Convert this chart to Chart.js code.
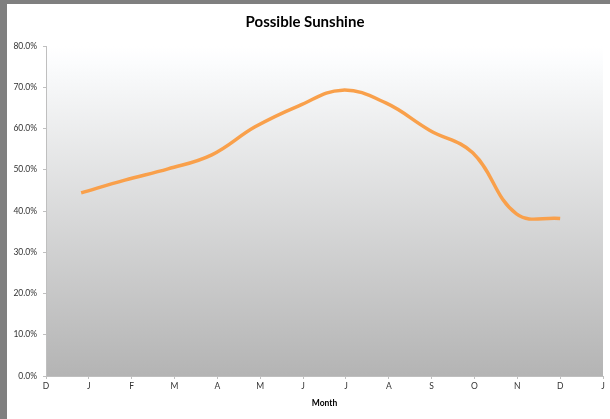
<!DOCTYPE html>
<html>
<head>
    <title>Possible Sunshine</title>
    <script src="https://cdn.jsdelivr.net/npm/chart.js"></script>
    <style>
        body { margin: 0; background: #fff; }
        #frame { position: absolute; left: 0; top: 0; width: 603px; height: 415px;
                 border-top: 4px solid #7f7f7f; border-left: 7px solid #7f7f7f; background: #fff; }
    </style>
</head>
<body>
    <div id="frame">
        <canvas id="sunChart" width="603" height="415"></canvas>
    </div>
    <script>
        // 数据
        const axisLabels = ['D', 'J', 'F', 'M', 'A', 'M', 'J', 'J', 'A', 'S', 'O', 'N', 'D', 'J'];
        const monthPos = [0.82, 1.84, 2.85, 3.87, 4.88, 5.90, 6.92, 7.93, 8.95, 9.96, 10.98, 12.0];
        const sunshine = [0.444, 0.475, 0.502, 0.536, 0.604, 0.655, 0.693, 0.662, 0.596, 0.541, 0.393, 0.382];
        const yTicks = [0, 0.1, 0.2, 0.3, 0.4, 0.5, 0.6, 0.7, 0.8];

        // 绘图区渐变背景
        const plotBg = {
            id: 'plotBg',
            beforeDraw(chart) {
                const {ctx, chartArea: a} = chart;
                const g = ctx.createLinearGradient(0, a.top, 0, a.bottom);
                g.addColorStop(0, '#ffffff');
                g.addColorStop(0.05, '#fbfcfd');
                g.addColorStop(1, '#b4b4b4');
                ctx.save();
                ctx.fillStyle = g;
                ctx.fillRect(a.left, a.top, a.right - a.left, a.bottom - a.top);
                ctx.restore();
            }
        };

        const tickFont = { family: 'Lato', size: 8.5 };
        const ctx = document.getElementById('sunChart').getContext('2d');
        const chart = new Chart(ctx, {
            type: 'line',
            data: {
                datasets: [{
                    data: monthPos.map((x, i) => ({ x: x, y: sunshine[i] })),
                    borderColor: '#f9a04b',
                    borderWidth: 3.5,
                    pointRadius: 0,
                    tension: 0.4,
                    fill: false
                }]
            },
            options: {
                responsive: false,
                animation: false,
                layout: { padding: { left: 0, right: 7, top: 0, bottom: 0 } },
                plugins: {
                    legend: { display: false },
                    tooltip: { enabled: false },
                    title: {
                        display: true,
                        text: 'Possible Sunshine',
                        color: '#000',
                        font: { family: 'Lato', size: 15, weight: 'bold' },
                        padding: { top: 9, bottom: 15 }
                    }
                },
                scales: {
                    x: {
                        type: 'linear',
                        min: 0,
                        max: 13,
                        afterBuildTicks: (s) => { s.ticks = axisLabels.map((l, i) => ({ value: i })); },
                        afterFit: (s) => { s.height = 43; },
                        ticks: {
                            color: '#333',
                            font: tickFont,
                            padding: 2,
                            maxRotation: 0,
                            autoSkip: false,
                            callback: (v) => axisLabels[v]
                        },
                        grid: { drawOnChartArea: false, drawTicks: true, tickLength: 3, color: '#bfbfbf' },
                        border: { color: '#bfbfbf' },
                        title: {
                            display: true,
                            text: 'Month',
                            color: '#000',
                            font: { family: 'Lato', size: 8.5, weight: 'bold' },
                            padding: { top: 0, bottom: 11 }
                        }
                    },
                    y: {
                        min: 0,
                        max: 0.8,
                        afterBuildTicks: (s) => { s.ticks = yTicks.map(v => ({ value: v })); },
                        afterFit: (s) => { s.width = 39; },
                        ticks: {
                            color: '#333',
                            font: tickFont,
                            padding: 6,
                            callback: (v) => (v * 100).toFixed(1) + '%'
                        },
                        grid: { drawOnChartArea: false, drawTicks: true, tickLength: 3, color: '#bfbfbf' },
                        border: { color: '#bfbfbf' }
                    }
                }
            },
            plugins: [plotBg]
        });
    </script>
</body>
</html>
